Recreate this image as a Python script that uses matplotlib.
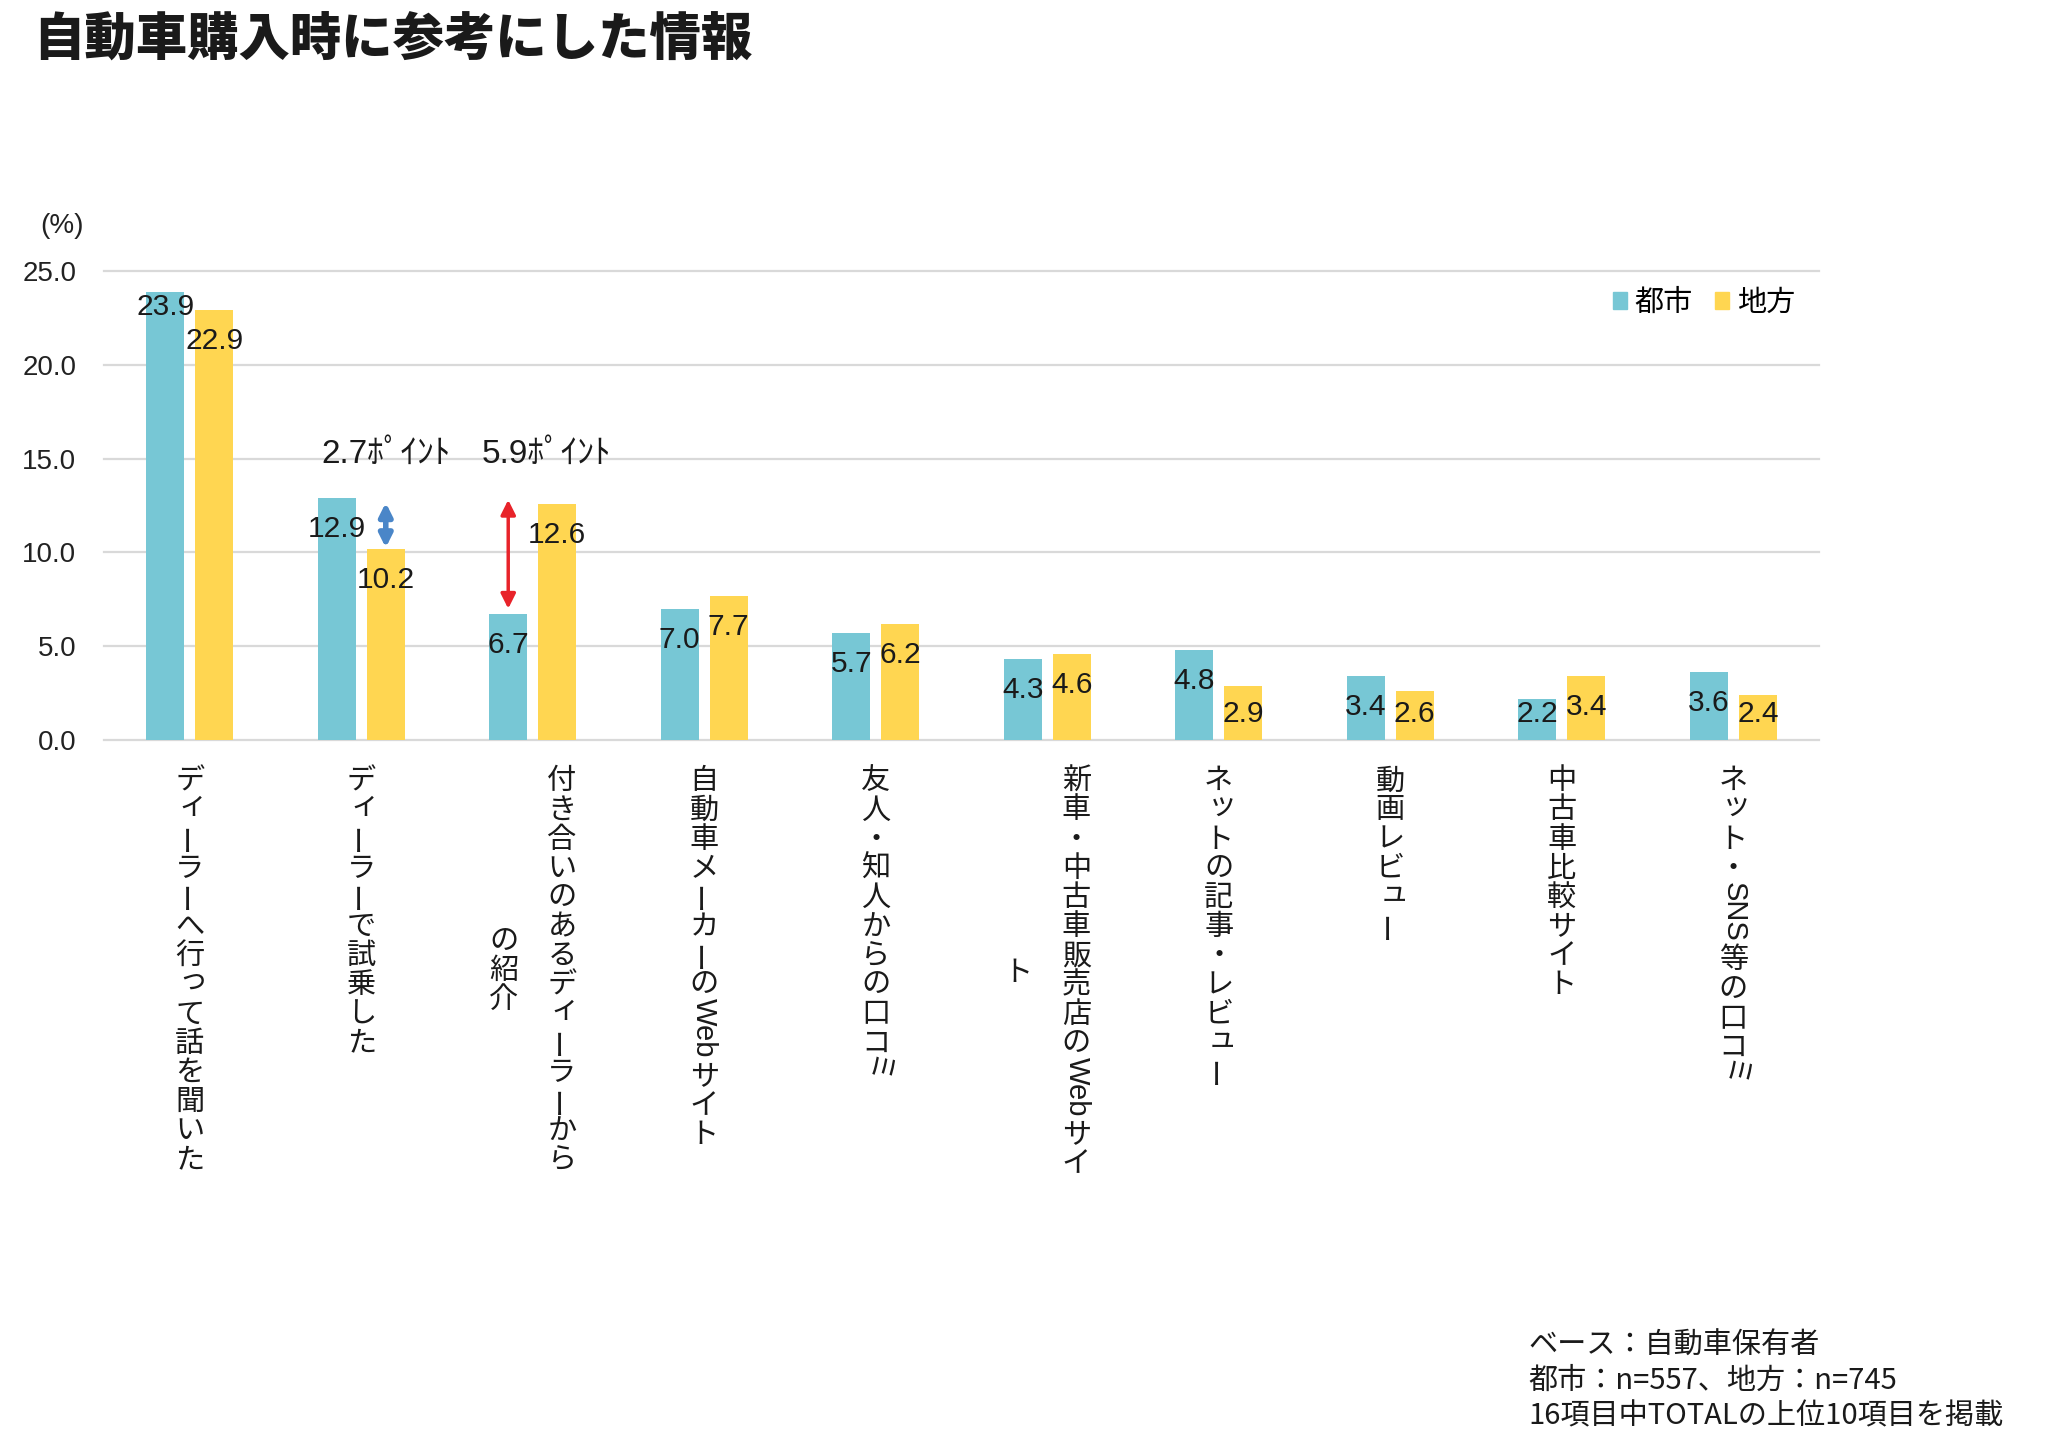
import re
import numpy as np
import matplotlib
matplotlib.use('Agg')
import matplotlib.pyplot as plt
from matplotlib.font_manager import FontProperties
from matplotlib.patches import Patch

# フォント: 数字は Arial 風、日本語は Noto
jp = ['Noto Sans CJK JP', 'DejaVu Sans']
en = ['Liberation Sans', 'Noto Sans CJK JP', 'DejaVu Sans']
plt.rcParams['font.family'] = en

# データ
title = '自動車購入時に参考にした情報'
categories = [
    'ディーラーへ行って話を聞いた',
    'ディーラーで試乗した',
    '付き合いのあるディーラーから\nの紹介',
    '自動車メーカーのWebサイト',
    '友人・知人からの口コミ',
    '新車・中古車販売店のWebサイ\nト',
    'ネットの記事・レビュー',
    '動画レビュー',
    '中古車比較サイト',
    'ネット・SNS等の口コミ',
]
toshi = [23.9, 12.9, 6.7, 7.0, 5.7, 4.3, 4.8, 3.4, 2.2, 3.6]
chiho = [22.9, 10.2, 12.6, 7.7, 6.2, 4.6, 2.9, 2.6, 3.4, 2.4]
series_names = ['都市', '地方']
colors = ['#77C7D5', '#FFD651']
yticks = [0, 5, 10, 15, 20, 25]
notes = ['ベース：自動車保有者',
         '都市：n=557、地方：n=745',
         '16項目中TOTALの上位10項目を掲載']

W, H = 2048, 1447
fig = plt.figure(figsize=(W / 100, H / 100), dpi=100)
ax = fig.add_axes([104 / W, 1 - 740 / H, 1715 / W, 469 / H])

x = np.arange(len(categories))
off = 0.143   # 棒の中心のずれ
bw = 0.222    # 棒の幅
ax.bar(x - off, toshi, bw, color=colors[0], zorder=2)
ax.bar(x + off, chiho, bw, color=colors[1], zorder=2)

ax.set_xlim(-0.5, len(categories) - 0.5)
ax.set_ylim(0, 25)
ax.set_yticks(yticks)
ax.set_yticklabels([f'{t:.1f}' for t in yticks])
ax.set_xticks([])
ax.tick_params(axis='y', length=0, pad=20, labelsize=20, labelcolor='#222222')
ax.yaxis.grid(True, color='#d9d9d9', lw=1.6)
ax.set_axisbelow(True)
for ln in ax.get_ygridlines():
    ln.set_clip_on(False)
for sp in ax.spines.values():
    sp.set_visible(False)

# 値ラベル（いちばん高い棒だけ少し上に置かれている）
for xs, vals in ((x - off, toshi), (x + off, chiho)):
    for xi, v in zip(xs, vals):
        ly = max(v - 1.65, 1.4)
        if v == max(toshi):
            ly = v - 0.8
        ax.text(xi, ly, f'{v:.1f}', ha='center', va='center',
                fontsize=21.5, color='#1a1a1a', zorder=3)

# 差のポイント（矢印）
d1 = abs(toshi[1] - chiho[1])
d2 = abs(toshi[2] - chiho[2])
ax.annotate('', xy=(1 + off, toshi[1] - 0.25), xytext=(1 + off, chiho[1] + 0.05),
            arrowprops=dict(arrowstyle='<|-|>', color='#4A86C8', lw=4,
                            mutation_scale=19, shrinkA=0, shrinkB=0), zorder=4)
ax.annotate('', xy=(2 - off, chiho[2] + 0.2), xytext=(2 - off, toshi[2] + 0.3),
            arrowprops=dict(arrowstyle='<|-|>', color='#E8232A', lw=2.5,
                            mutation_scale=22, shrinkA=0, shrinkB=0), zorder=4)
ax.text(1 + off, 15.25, f'{d1:.1f}ﾎﾟｲﾝﾄ', ha='center', va='center', fontsize=24,
        color='#1a1a1a')
ax.text(2 + 0.08, 15.25, f'{d2:.1f}ﾎﾟｲﾝﾄ', ha='center', va='center', fontsize=24,
        color='#1a1a1a')

# 縦書きの項目ラベル
fs = 21
em = fs
colsep = 42
top0 = 17
small = set('ァィゥェォッャュョっゃゅょ')
renderer = fig.canvas.get_renderer()
fp_en = FontProperties(family=en, size=fs)


def width_pt(s):
    w, h, d = renderer.get_text_width_height_descent(s, fp_en, ismath=False)
    return w * 72 / fig.dpi


for i, cat in enumerate(categories):
    cols = cat.split('\n')
    toks = [re.findall(r'[A-Za-z0-9]+|.', c) for c in cols]
    advs = [[width_pt(t) + 2 if t.isascii() else em for t in tk] for tk in toks]
    hmax = max(sum(a) for a in advs)
    n = len(cols)
    for j, (tk, ad) in enumerate(zip(toks, advs)):
        dx = ((n - 1) / 2 - j) * colsep
        y0 = top0 + (hmax - sum(ad)) / 2
        for t, a in zip(tk, ad):
            cy = y0 + a / 2
            kw = dict(xy=(i, 0), xycoords=('data', 'axes fraction'),
                      textcoords='offset points', fontsize=fs, color='#1a1a1a',
                      annotation_clip=False)
            if t.isascii():
                ax.annotate(t, xytext=(dx, -y0 - 1), rotation=-90,
                            rotation_mode='anchor', ha='left', va='center',
                            family=en, **kw)
            elif t == 'ー':
                ax.annotate(t, xytext=(dx, -cy), rotation=90, ha='center',
                            va='center', family=jp, **kw)
            elif t == 'ミ':
                ax.annotate(t, xytext=(dx, -cy), rotation=-90, ha='center',
                            va='center', family=jp, **kw)
            elif t in small:
                ax.annotate(t, xytext=(dx + 0.12 * em, -cy - 0.22 * em),
                            ha='center', va='baseline', family=jp, **kw)
            else:
                ax.annotate(t, xytext=(dx, -cy - 0.38 * em), ha='center',
                            va='baseline', family=jp, **kw)
            y0 += a

# 凡例
handles = [Patch(color=c) for c in colors]
fig.legend(handles, series_names, loc='center right',
           bbox_to_anchor=(1795 / W, 1 - 303 / H), ncol=2, frameon=False,
           prop=FontProperties(family=jp, size=21), handlelength=0.5,
           handleheight=0.5, handletextpad=0.25, columnspacing=0.75,
           borderpad=0, borderaxespad=0)

# タイトル・単位・注記
fig.text(33 / W, 1 - 40 / H, title, ha='left', va='center', fontsize=37,
         fontweight='heavy', family=jp, color='#1a1a1a')
fig.text(62 / W, 1 - 226 / H, '(%)', ha='center', va='center', fontsize=20,
         color='#222222')
for k, line in enumerate(notes):
    fig.text(1528 / W, 1 - (1346 + 35 * k) / H, line, ha='left', va='center',
             fontsize=21, family=jp, color='#1a1a1a')

fig.savefig('out.png', dpi=100, facecolor='white')
